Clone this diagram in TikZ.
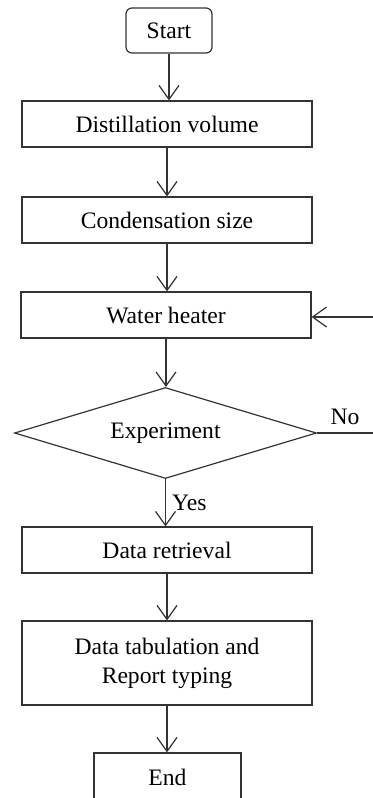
\documentclass[tikz,border=0pt]{standalone}
\usepackage{fontspec}
\setmainfont{Liberation Serif}
\usetikzlibrary{shapes.geometric,arrows.meta}

\begin{document}
\begin{tikzpicture}[x=0.5pt, y=-0.5pt,
    every node/.style={font=\fontsize{11.8}{14.5}\selectfont},
    box/.style={draw=black!80, line width=0.6pt, rectangle, minimum width=145pt, minimum height=23pt, inner sep=0pt, align=center},
    decision/.style={draw=black!80, line width=0.6pt, diamond, aspect=3.32, minimum width=151pt, minimum height=45.5pt, inner sep=0pt},
    arr/.style={draw=black!80, line width=0.6pt, -{Straight Barb[length=7pt, width=10pt]}},
    line/.style={draw=black!80, line width=0.6pt}]
\useasboundingbox (0,0) rectangle (373,798);
\clip (0,0) rectangle (373,798);
%
\node [box, rounded corners=3pt, minimum width=43pt, minimum height=22.5pt] (start) at (169, 30.5) {Start};
\node [box] (dist) at (167, 124) {Distillation volume};
\node [box] (cond) at (167, 220) {Condensation size};
\node [box] (heat) at (166, 315) {Water heater};
\node [decision] (exp) at (165.5, 433) {Experiment};
\node [box] (retr) at (167, 550) {Data retrieval};
\node [box, minimum height=42pt] (tab) at (167, 663) {Data tabulation and\\Report typing};
\node [box, minimum width=73.5pt, minimum height=24pt] (end) at (167.5, 777) {End};
%
\coordinate (noend) at (373, 433);
\coordinate (back) at (373, 317);
%
\draw [arr] (start) -- (start |- dist.north);
\draw [arr] (dist) -- (dist |- cond.north);
\draw [arr] (cond) -- (cond |- heat.north);
\draw [arr] (heat) -- (heat |- exp.north);
\draw [arr] (exp) -- node [right, inner sep=3pt] {Yes} (exp |- retr.north);
\draw [arr] (retr) -- (retr |- tab.north);
\draw [arr] (tab) -- (tab |- end.north);
%
\draw [line] (exp.east) -- node [above, inner sep=4pt] {No} (noend);
\draw [arr] (back) -- (back -| heat.east);
%%%%%%%%%%%%%%%%%%%%%%%%%%%%%%%
\end{tikzpicture}
\end{document}
